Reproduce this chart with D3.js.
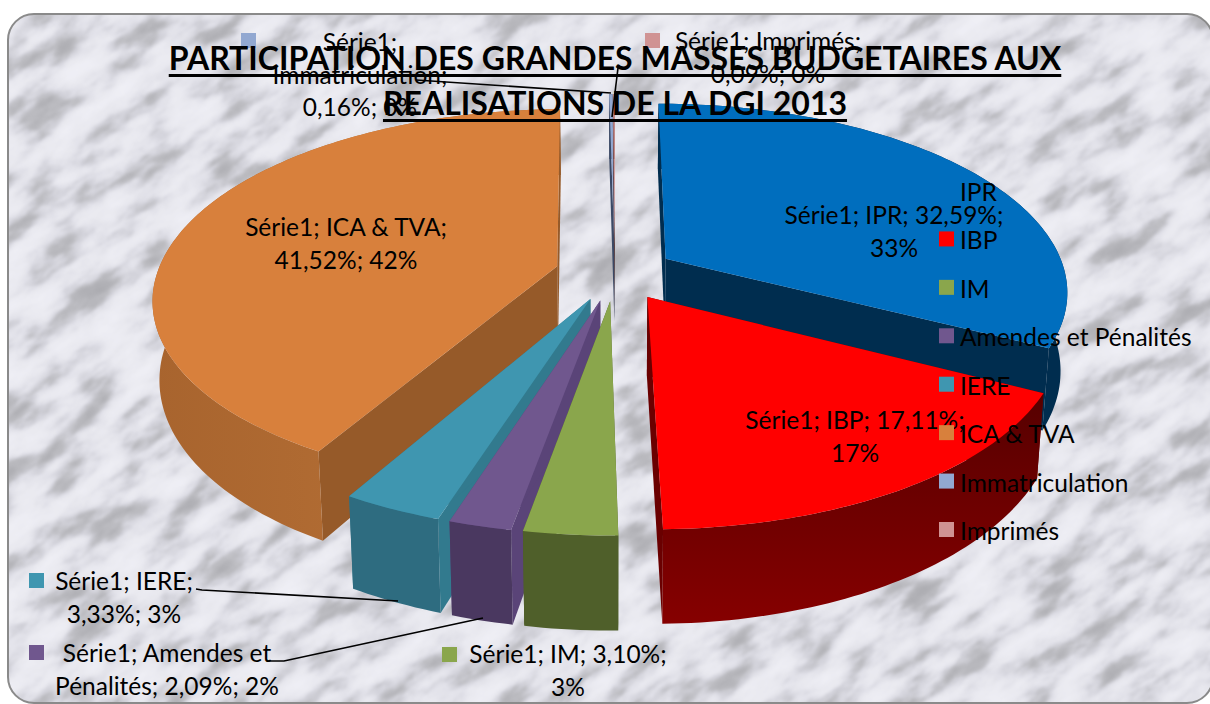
<!DOCTYPE html>
<html><head><meta charset="utf-8">
<script src="https://cdnjs.cloudflare.com/ajax/libs/d3/7.8.5/d3.min.js"></script>
<style>html,body{margin:0;padding:0;background:#fff;overflow:hidden}svg{display:block}text{font-family:Lato,"Open Sans",sans-serif;fill:#000}</style>
</head><body><svg id="c" width="1210" height="704"></svg>
<script>
const titleLines = ["PARTICIPATION DES GRANDES MASSES BUDGETAIRES AUX", "REALISATIONS DE LA DGI 2013"];
const seriesName = "Série1";
const categories = ["IPR","IBP","IM","Amendes et Pénalités","IERE","ICA & TVA","Immatriculation","Imprimés"];
const values = [32.59,17.11,3.10,2.09,3.33,41.52,0.16,0.09];
const rounded = [33,17,3,2,3,42,0,0];
const topColors = ["#006EBE","#FF0000","#8AA64C","#70578E","#3F96B0","#D8803C","#92A8D1","#D09393"];
const wallColors = ["#002D4F","#6A0000","#4F5F2A","#4A3860","#2E6C80","#A9652F","#3C4A66","#5A3A3A"];
const sideColors = ["#002D4F","#6A0000","#4F5F2A","#5A4478","#327A8E","#965A29","#3C4A66","#5A3A3A"];
const drawOrder = [5,6,7,0,1,4,3,2];

const svg = d3.select("#c");
const defs = svg.append("defs");
const marble = defs.append("filter").attr("id","marble").attr("x",0).attr("y",0).attr("width",1).attr("height",1)
  .attr("color-interpolation-filters","sRGB");
marble.append("feTurbulence").attr("type","fractalNoise").attr("baseFrequency","0.016 0.04").attr("numOctaves",6).attr("seed",37).attr("result","n");
marble.append("feColorMatrix").attr("type","matrix").attr("values","1 0 0 0 0  1 0 0 0 0  1 0 0 0 0  0 0 0 0 1").attr("result","g");
const ct = marble.append("feComponentTransfer").attr("result","t");
const tblR=".66 .68 .7 .74 .82 .885 .915 .925 .935 .94 .94", tblB=".68 .7 .72 .76 .85 .915 .94 .95 .96 .965 .965";
ct.append("feFuncR").attr("type","table").attr("tableValues",tblR);
ct.append("feFuncG").attr("type","table").attr("tableValues",tblR);
ct.append("feFuncB").attr("type","table").attr("tableValues",tblB);
marble.append("feGaussianBlur").attr("stdDeviation",1);
const clip = defs.append("clipPath").attr("id","frame");
clip.append("rect").attr("x",8).attr("y",14).attr("width",1205).attr("height",689).attr("rx",26);
svg.append("rect").attr("x",8).attr("y",14).attr("width",1205).attr("height",689).attr("rx",26).attr("fill","#e8e8ee");
svg.append("g").attr("clip-path","url(#frame)").append("rect").attr("x",-300).attr("y",-400).attr("width",1810).attr("height",1500).attr("transform","rotate(-35 605 352)").attr("filter","url(#marble)");
svg.append("rect").attr("x",8).attr("y",14).attr("width",1205).attr("height",689).attr("rx",26).attr("fill","none").attr("stroke","#8a8a8a").attr("stroke-width",2);

// perspective pie
const C = {x:615,y:273,R:400,Ry:185,p:0.165,e:0.15,h:77,b:0.985};
const proj = (u,v,down) => {
  const s = 1/(1-C.p*v);
  const k = down ? C.b : 1;
  return [C.x + C.R*u*s*k, C.y + C.Ry*v*s + (down? C.h*s : 0)];
};
const pieGen = d3.pie().sort(null).value(d=>d).startAngle(0).endAngle(2*Math.PI);
const arcs = pieGen(values);
const path = d3.line().x(d=>d[0]).y(d=>d[1]);
const pg = svg.append("g");

drawOrder.forEach(i=>{
  const a = arcs[i], mid=(a.startAngle+a.endAngle)/2;
  const ou = C.e*Math.sin(mid), ov = -C.e*Math.cos(mid);
  const n = Math.max(2,Math.ceil((a.endAngle-a.startAngle)/0.02));
  const angs = d3.range(n+1).map(k=>a.startAngle+(a.endAngle-a.startAngle)*k/n);
  const pts = angs.map(t=>[ou+Math.sin(t),ov-Math.cos(t)]);
  const g = pg.append("g");
  let wallFill = wallColors[i];
  if(i===1||i===5){
    const id="wg"+i;
    const lg=defs.append("linearGradient").attr("id",id);
    if(i===1){ lg.attr("x1",0).attr("y1",0).attr("x2",0).attr("y2",1);
      lg.append("stop").attr("offset",0).attr("stop-color","#560000");
      lg.append("stop").attr("offset",1).attr("stop-color","#860000");
    } else { lg.attr("x1",0).attr("y1",0).attr("x2",1).attr("y2",0);
      lg.append("stop").attr("offset",0).attr("stop-color","#A8642E");
      lg.append("stop").attr("offset",.7).attr("stop-color","#B56F35");
      lg.append("stop").attr("offset",1).attr("stop-color","#955A2A");
    }
    wallFill="url(#"+id+")";
  }
  const top = pts.map(p=>proj(p[0],p[1],false));
  const bot = pts.map(p=>proj(p[0],p[1],true));
  // radial walls first, outer wall over them
  [pts[0],pts[n]].forEach(p=>{
    g.append("path").attr("d",path([proj(ou,ov,false),proj(p[0],p[1],false),proj(p[0],p[1],true),proj(ou,ov,true)])+"Z").attr("fill",sideColors[i]);
  });
  g.append("path").attr("d",path(top.concat(bot.slice().reverse()))+"Z").attr("fill",wallFill);
  g.append("path").attr("d",path([proj(ou,ov,false)].concat(top))+"Z").attr("fill",topColors[i]);
});

// leader lines (label anchor → slice)
const lg = svg.append("g").attr("fill","none").attr("stroke","#000");
const leaders = [[[196,589],[202,590],[398,601]],[[269,661],[284,661],[483,618]],[[416,80],[611,93]],[[618,68],[612,117]]];
leaders.forEach(l=>lg.append("path").attr("d",path(l)).attr("stroke-width",1.6));

// labels
const FS = 24.5;
const pct = i => String(values[i].toFixed(2)).replace(".",",")+"%";
const labelLines = [
  [`${seriesName}; ${categories[0]}; ${pct(0)};`,`${rounded[0]}%`],
  [`${seriesName}; ${categories[1]}; ${pct(1)};`,`${rounded[1]}%`],
  [`${seriesName}; ${categories[2]}; ${pct(2)};`,`${rounded[2]}%`],
  [`${seriesName}; Amendes et`,`Pénalités; ${pct(3)}; ${rounded[3]}%`],
  [`${seriesName}; ${categories[4]};`,`${pct(4)}; ${rounded[4]}%`],
  [`${seriesName}; ${categories[5]};`,`${pct(5)}; ${rounded[5]}%`],
  [`${seriesName};`,`${categories[6]};`,`${pct(6)}; ${rounded[6]}%`],
  [`${seriesName}; ${categories[7]};`,`${pct(7)}; ${rounded[7]}%`]
];
const labelPos = [
  {x:894,y:224,sx:759,sy:206},{x:855,y:429,sx:719,sy:411},{x:568,y:663,sx:442,sy:647},
  {x:167,y:662,sx:29,sy:645},{x:124,y:590,sx:29,sy:573},{x:346,y:236,sx:218,sy:218},
  {x:360,y:51,sx:241,sy:33},{x:768,y:50,sx:645,sy:33}
];
const lb = svg.append("g").attr("font-size",FS);
labelLines.forEach((lines,i)=>{
  const p = labelPos[i];
  lb.append("rect").attr("x",p.sx).attr("y",p.sy).attr("width",15).attr("height",15).attr("fill",topColors[i]);
  lines.forEach((t,k)=>lb.append("text").attr("x",p.x).attr("y",p.y+k*32.5).attr("text-anchor","middle").text(t));
});

// legend
const lgY = d3.scaleLinear().domain([0,7]).range([193,532]);
const leg = svg.append("g").attr("font-size",FS);
categories.forEach((c,i)=>{
  leg.append("rect").attr("x",939).attr("y",lgY(i)-10).attr("width",15).attr("height",15).attr("fill",topColors[i]);
  leg.append("text").attr("x",960).attr("y",lgY(i)+8).text(c);
});

// title
const tg = svg.append("g").attr("font-size",32).attr("font-weight",700);
[[615,70],[615,115]].forEach((p,i)=>{
  const t = tg.append("text").attr("x",p[0]).attr("y",p[1]).attr("text-anchor","middle").text(titleLines[i]);
  const w = t.node().getComputedTextLength();
  tg.append("line").attr("x1",p[0]-w/2).attr("x2",p[0]+w/2).attr("y1",p[1]+5.5).attr("y2",p[1]+5.5).attr("stroke","#000").attr("stroke-width",2.8);
});
</script></body></html>
